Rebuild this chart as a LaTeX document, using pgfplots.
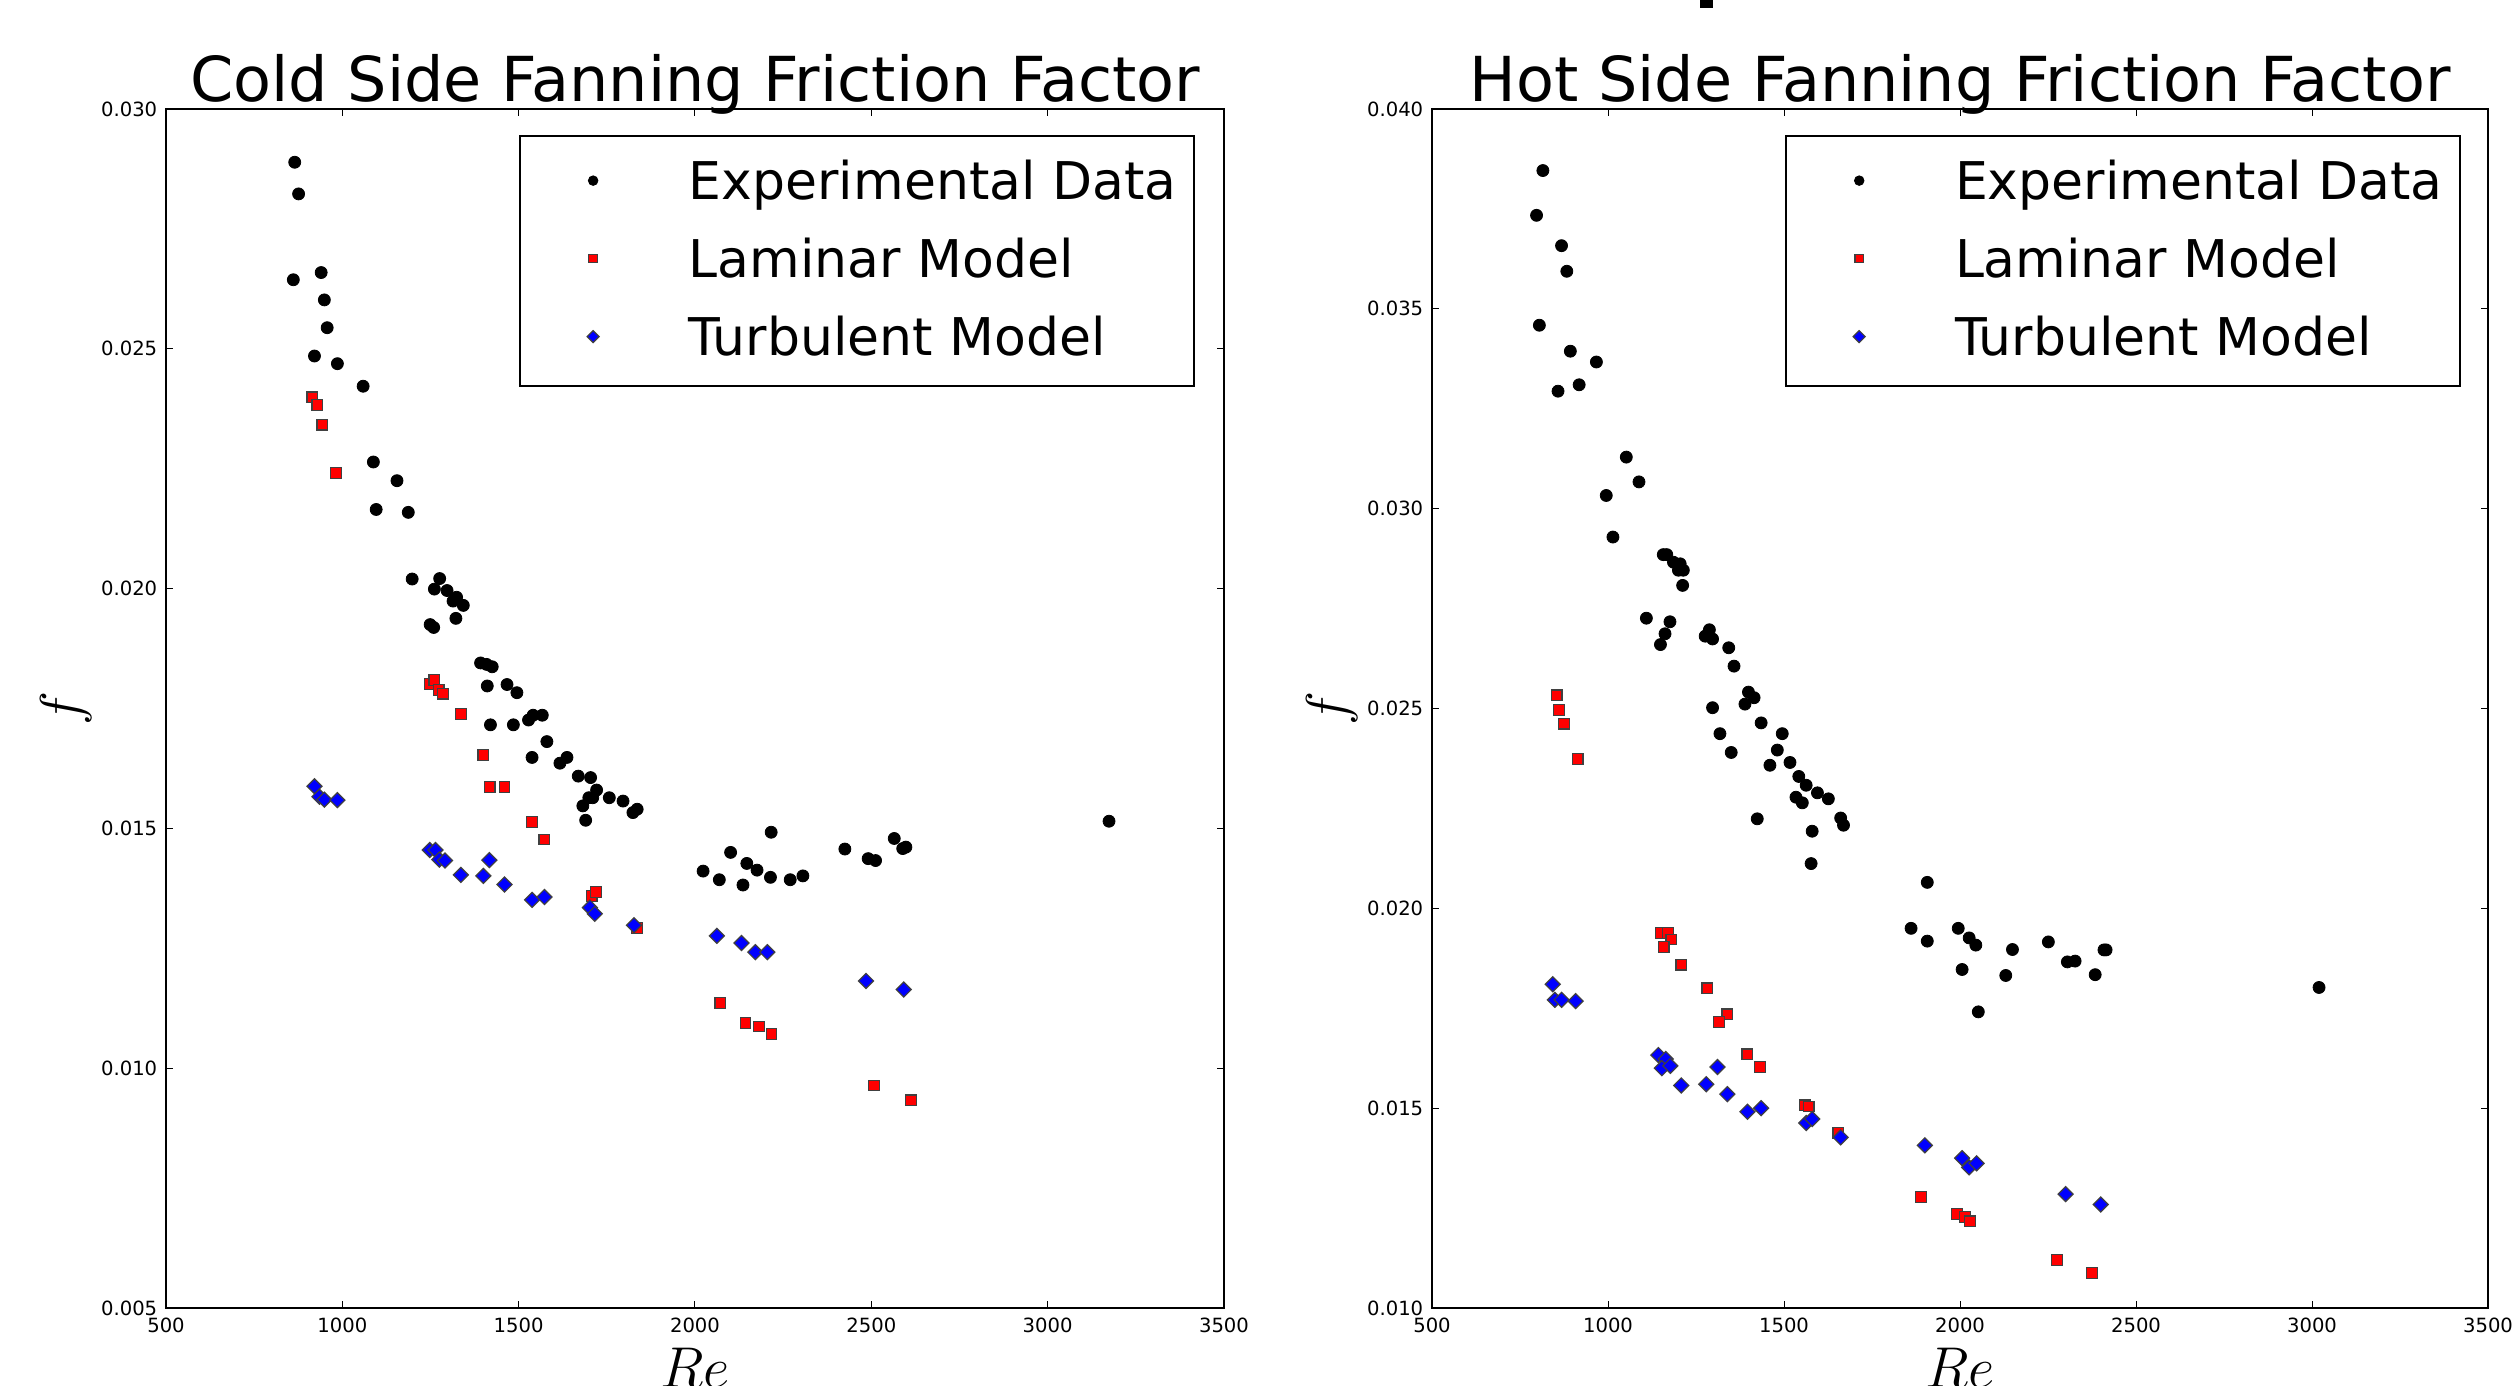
\documentclass[border=0pt]{standalone}
\usepackage{pgfplots}
\usepackage{pgfplotstable}
\pgfplotsset{compat=1.18}
\usepackage{fontspec}
\setmainfont{DejaVu Sans}

\pgfplotstableread{
Re f
865 0.02889
876 0.02823
861 0.02644
940 0.02659
949 0.02602
957 0.02544
921 0.02485
986 0.02469
1059 0.02422
1088 0.02264
1155 0.02225
1096 0.02165
1187 0.02159
1198 0.02020
1276 0.02021
1261 0.01999
1297 0.01996
1324 0.01982
1314 0.01974
1343 0.01965
1322 0.01938
1249 0.01925
1259 0.01919
1392 0.01845
1409 0.01842
1425 0.01837
1411 0.01797
1467 0.01800
1495 0.01783
1420 0.01716
1485 0.01716
1528 0.01726
1541 0.01736
1567 0.01736
1580 0.01681
1538 0.01648
1617 0.01636
1637 0.01648
1669 0.01609
1704 0.01606
1721 0.01580
1699 0.01564
1710 0.01564
1682 0.01547
1690 0.01517
1757 0.01564
1796 0.01557
1836 0.01540
1824 0.01533
2216 0.01492
2101 0.01450
2147 0.01427
2176 0.01413
2023 0.01411
2069 0.01393
2136 0.01382
2214 0.01398
2270 0.01393
2306 0.01401
2425 0.01457
2565 0.01479
2491 0.01437
2512 0.01433
2589 0.01458
2598 0.01461
3174 0.01515
}\coldexp

\pgfplotstableread{
Re f
915 0.02399
929 0.02383
943 0.02342
982 0.02241
1247 0.01801
1261 0.01809
1273 0.01789
1286 0.01781
1336 0.01739
1400 0.01653
1418 0.01586
1460 0.01586
1538 0.01513
1573 0.01477
1707 0.01359
1719 0.01367
1836 0.01292
2072 0.01136
2143 0.01094
2181 0.01087
2217 0.01071
2507 0.00964
2613 0.00933
}\coldlam

\pgfplotstableread{
Re f
921 0.01588
935 0.01566
949 0.01560
986 0.01559
1248 0.01455
1264 0.01455
1275 0.01435
1291 0.01433
1336 0.01403
1400 0.01401
1417 0.01434
1460 0.01383
1538 0.01351
1573 0.01357
1702 0.01335
1716 0.01322
1827 0.01298
2062 0.01276
2132 0.01261
2171 0.01242
2205 0.01242
2485 0.01182
2592 0.01164
}\coldturb

\pgfplotstableread{
Re f
815 0.03846
797 0.03734
868 0.03658
883 0.03594
805 0.03459
893 0.03394
967 0.03367
858 0.03294
918 0.03310
1052 0.03129
1088 0.03067
995 0.03033
1014 0.02929
1157 0.02885
1167 0.02885
1186 0.02866
1205 0.02862
1200 0.02846
1214 0.02846
1212 0.02808
1109 0.02726
1176 0.02717
1162 0.02687
1149 0.02660
1288 0.02697
1276 0.02681
1297 0.02674
1343 0.02652
1358 0.02606
1399 0.02541
1415 0.02527
1389 0.02511
1297 0.02502
1435 0.02464
1495 0.02437
1318 0.02437
1481 0.02396
1350 0.02390
1517 0.02365
1460 0.02358
1542 0.02330
1563 0.02308
1595 0.02289
1626 0.02274
1534 0.02278
1552 0.02264
1424 0.02224
1661 0.02226
1669 0.02208
1580 0.02193
1577 0.02112
1907 0.02065
1861 0.01950
1907 0.01918
1995 0.01950
2026 0.01926
2045 0.01908
2149 0.01897
2006 0.01847
2130 0.01832
2052 0.01741
2251 0.01916
2305 0.01866
2327 0.01868
2409 0.01896
2415 0.01896
2384 0.01834
3020 0.01802
}\hotexp

\pgfplotstableread{
Re f
854 0.02533
861 0.02496
875 0.02462
914 0.02374
1151 0.01938
1170 0.01938
1180 0.01922
1158 0.01903
1208 0.01859
1282 0.01800
1339 0.01735
1315 0.01716
1396 0.01635
1432 0.01603
1560 0.01507
1570 0.01504
1654 0.01438
1889 0.01278
1991 0.01235
2014 0.01228
2028 0.01217
2276 0.01120
2375 0.01088
}\hotlam

\pgfplotstableread{
Re f
843 0.01810
849 0.01771
868 0.01771
908 0.01768
1143 0.01633
1164 0.01623
1153 0.01600
1177 0.01606
1311 0.01603
1208 0.01557
1279 0.01560
1339 0.01535
1396 0.01491
1435 0.01500
1563 0.01463
1580 0.01473
1661 0.01427
1900 0.01407
2006 0.01375
2026 0.01352
2047 0.01362
2300 0.01285
2400 0.01259
}\hotturb

\pgfplotsset{
  friction/.style={
    scale only axis,
    height=299.75pt,
    anchor=south west,
    xmin=500, xmax=3500,
    xtick={500,1000,1500,2000,2500,3000,3500},
    tick align=inside,
    major tick length=1.75pt,
    tick style={black, line width=0.25pt},
    axis line style={black, line width=0.5pt},
    /pgf/number format/assume math mode=true,
    tick label style={font=\fontsize{4.9}{5}\selectfont},
    xticklabel style={inner sep=0pt, yshift=-2.25pt, /pgf/number format/1000 sep={}},
    yticklabel style={inner sep=0pt, xshift=-2pt, /pgf/number format/fixed, /pgf/number format/fixed zerofill, /pgf/number format/precision=3},
    scaled y ticks=false,
    title style={font=\fontsize{15.5}{16}\selectfont, at={(axis description cs:0.5,0.9866)}, anchor=base},
    xlabel={$Re$}, ylabel={$f$},
    label style={font=\fontsize{14}{14}\selectfont},
    xlabel style={at={(axis description cs:0.5,-0.0659)}, anchor=base},
    legend style={
      font=\fontsize{13}{15}\selectfont,
      anchor=north east,
      draw=black, line width=0.5pt,
      inner xsep=4.4pt, inner ysep=5.25pt,
      row sep=6.5pt, column sep=0pt,
      nodes={inner sep=0pt, text height=10.5pt, text depth=2.5pt, anchor=base west},
      legend cell align=left,
    },
    legend image code/.code={%
      \path (0pt,0pt) (37.3pt,5pt);
      \draw[#1, every mark/.append style={scale=0.8}] plot coordinates {(13.6pt,4.6pt)};
    },
    legend entries={Experimental Data, Laminar Model, Turbulent Model},
  },
  expst/.style={only marks, mark=*, mark size=1.5pt, black, mark options={fill=black, draw=black, line width=0.2pt}},
  lamst/.style={only marks, mark=square*, mark size=1.33pt, mark options={fill=red, draw=black!75, line width=0.3pt}},
  turbst/.style={only marks, mark=square*, mark size=1.33pt, mark options={fill=blue, draw=black!75, line width=0.3pt, rotate=45}},
}

\begin{document}
\begin{tikzpicture}
\useasboundingbox (0,0) rectangle (629.25pt,346.25pt);
\begin{axis}[friction,
  at={(41.5pt,19.25pt)}, width=264.5pt,
  ymin=0.005, ymax=0.030,
  ytick={0.005,0.010,0.015,0.020,0.025,0.030},
  title={Cold Side Fanning Friction Factor},
  ylabel style={at={(axis description cs:-0.0945,0.5)}, anchor=center},
  legend style={at={(axis description cs:0.9726,0.9783)}},
]
\addplot[expst] table[x=Re,y=f] {\coldexp};
\addplot[lamst] table[x=Re,y=f] {\coldlam};
\addplot[turbst] table[x=Re,y=f] {\coldturb};
\end{axis}
\begin{axis}[friction,
  at={(358pt,19.25pt)}, width=264pt,
  ymin=0.010, ymax=0.040,
  ytick={0.010,0.015,0.020,0.025,0.030,0.035,0.040},
  title={Hot Side Fanning Friction Factor},
  ylabel style={at={(axis description cs:-0.0947,0.5)}, anchor=center},
  legend style={at={(axis description cs:0.9745,0.9783)}},
]
\addplot[expst] table[x=Re,y=f] {\hotexp};
\addplot[lamst] table[x=Re,y=f] {\hotlam};
\addplot[turbst] table[x=Re,y=f] {\hotturb};
\end{axis}
\fill[black] (425pt,344.25pt) rectangle (428.25pt,346.25pt);
\end{tikzpicture}
\end{document}
